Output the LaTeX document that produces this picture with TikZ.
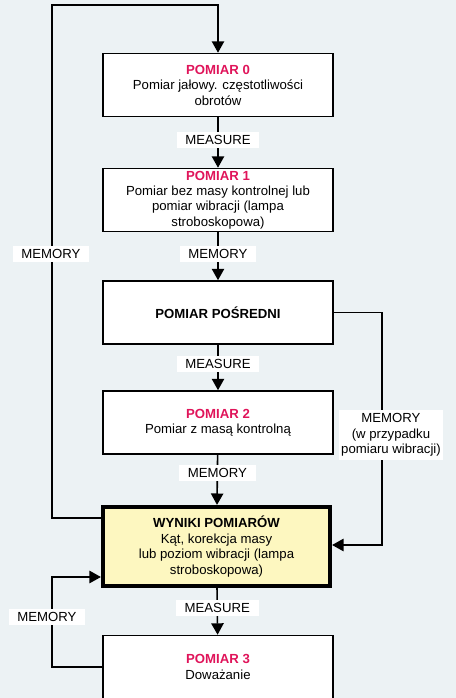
\documentclass[tikz,border=0pt]{standalone}
\usepackage{fontspec}
\setmainfont{Liberation Sans}
\usetikzlibrary{arrows.meta}
\definecolor{bgcol}{HTML}{ECF2F4}
\definecolor{tred}{HTML}{E0145A}
\definecolor{yel}{HTML}{FDF7C0}
\newcommand{\ttl}[1]{\textcolor{tred}{\textbf{#1}}}
\begin{document}
\begin{tikzpicture}[x=0.02cm, y=-0.02cm, >={Triangle[length=6.5pt,width=7pt]},
  font=\fontsize{7.5}{8.8}\selectfont,
  box/.style={draw, fill=white, line width=0.9pt, align=center, minimum width=4.6cm, minimum height=1.26cm, inner ysep=0pt},
  lbl/.style={fill=white, inner xsep=5pt, inner ysep=2pt, align=center},
  line/.style={line width=0.9pt}]
\useasboundingbox (0,0) rectangle (456,698);
\fill[bgcol] (0,0) rectangle (456,698);
\node[box] (p0) at (218,85) {\ttl{POMIAR 0}\\Pomiar jałowy. częstotliwości\\obrotów};
\node[box] (p1) at (218,200) {\ttl{POMIAR 1}\\Pomiar bez masy kontrolnej lub\\pomiar wibracji (lampa\\stroboskopowa)};
\node[box] (pp) at (218,312.5) {\textbf{POMIAR POŚREDNI}};
\node[box] (p2) at (218,422.5) {\ttl{POMIAR 2}\\Pomiar z masą kontrolną};
\node[box, fill=yel, line width=2.4pt, minimum width=4.54cm, minimum height=1.58cm] (wy) at (216.5,546.5) {\textbf{WYNIKI POMIARÓW}\\Kąt, korekcja masy\\lub poziom wibracji (lampa\\stroboskopowa)};
\node[box] (p3) at (218,667) {\ttl{POMIAR 3}\\Doważanie};
% main chain
\draw[line, ->] (p0) -- node[lbl, pos=0.45] (m1) {MEASURE} (p1);
\draw[line, ->] (p1) -- node[lbl, pos=0.45] (m2) {MEMORY} (pp);
\draw[line, ->] (pp) -- node[lbl, pos=0.42] (m3) {MEASURE} (p2);
\draw[line, ->] (p2) -- node[lbl, pos=0.36] (m4) {MEMORY} (wy);
\draw[line, ->] (wy) -- node[lbl, pos=0.42] (m5) {MEASURE} (p3);
% loops
\coordinate (c1) at (52,5);
\coordinate (c2) at (52,518);
\coordinate (c3) at (382,312.5);
\coordinate (c4) at (382,545);
\coordinate (c5) at (52,667);
\coordinate (c6) at (52,577);
\draw[line, ->] (wy.west |- c2) -- (c2) -- (c1) -- (p0.north |- c1) -- (p0.north);
\draw[line, ->] (pp.east) -- (c3) -- (c4) -- (wy.east |- c4);
\draw[line, ->] (p3.west) -- (c5) -- (c6) -- (wy.west |- c6);
\node[lbl] (m6) at (51,254) {MEMORY};
\node[lbl, inner xsep=1.5pt] (m7) at (391,435) {MEMORY\\(w przypadku\\pomiaru wibracji)};
\node[lbl] (m8) at (47,617) {MEMORY};
\end{tikzpicture}
\end{document}
